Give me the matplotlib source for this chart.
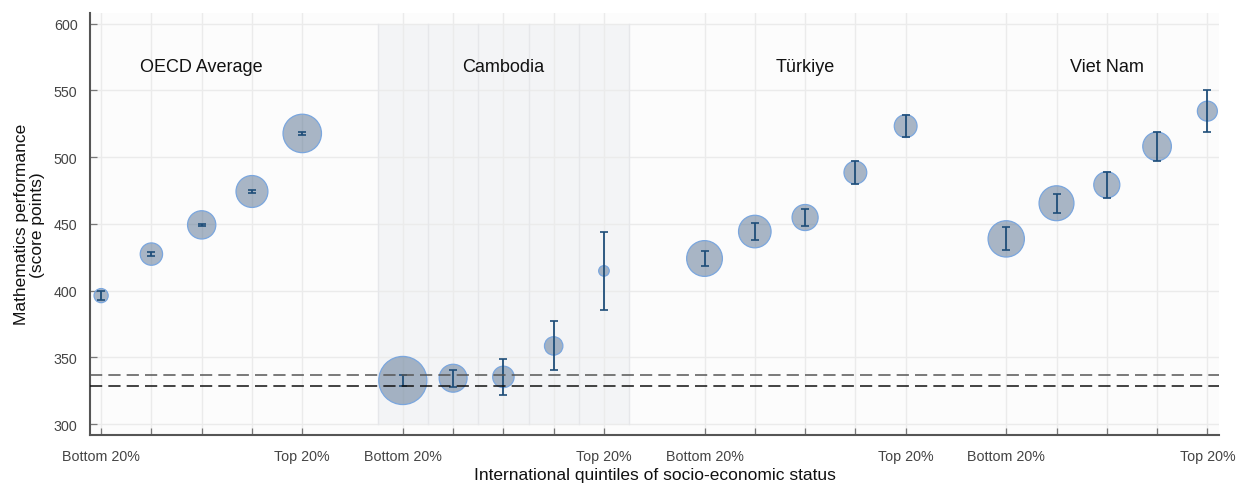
# Maths performance by international socio-economic quintile (PISA-style bubble chart)
import numpy as np
import matplotlib.pyplot as plt
from matplotlib.patches import Rectangle

plt.rcParams["font.family"] = ["Liberation Sans", "DejaVu Sans"]

groups = ["OECD Average", "Cambodia", "Türkiye", "Viet Nam"]

# mean score, half-width of 95% CI, share of students (%) per quintile
oecd_mean = [396.2, 427.3, 449.2, 474.2, 517.7]
oecd_ci = [3.4, 1.2, 0.9, 0.9, 0.9]
oecd_share = [5, 12.5, 20, 25.5, 37]

khm_mean = [332.6, 334.3, 335.3, 358.5, 414.7]
khm_ci = [4.1, 6.4, 13.2, 18.3, 29.3]
khm_share = [58, 19.5, 11.5, 8.5, 2.8]

tur_mean = [424.0, 444.2, 454.7, 488.4, 523.2]
tur_ci = [5.3, 6.1, 6.6, 8.4, 8.5]
tur_share = [32, 26.5, 17, 13, 13]

vnm_mean = [438.7, 465.4, 479.2, 508.0, 534.4]
vnm_ci = [8.7, 7.1, 9.7, 10.6, 15.8]
vnm_share = [33, 30.5, 17, 20.5, 10]

means = [oecd_mean, khm_mean, tur_mean, vnm_mean]
cis = [oecd_ci, khm_ci, tur_ci, vnm_ci]
shares = [oecd_share, khm_share, tur_share, vnm_share]

tick_text = ["Bottom 20%", "", "", "", "Top 20%"]
highlight = "Cambodia"

fig = plt.figure(figsize=(12.37, 4.85), dpi=100)
ax = fig.add_axes([0.0728, 0.101, 0.913, 0.871])
ax.set_facecolor("#fcfcfc")

xticks, xlabels = [], []
for g, (name, m, c, s) in enumerate(zip(groups, means, cis, shares)):
    x = np.arange(5) + 6 * g
    xticks += list(x)
    xlabels += tick_text
    if name == highlight:
        ax.add_patch(Rectangle((x[0] - 0.5, 300), 5, 300, facecolor="#f3f4f6",
                               edgecolor="none", zorder=0.5))
        for xb in np.arange(x[0] - 0.5, x[-1] + 1, 1.0):
            ax.plot([xb, xb], [300, 600], color="#e6e7ea", lw=1, zorder=0.6)
    ax.scatter(x, m, s=np.array(s) * 20.7, color="#55708f", alpha=0.5,
               edgecolors="none", zorder=3)
    ax.scatter(x, m, s=np.array(s) * 20.7, facecolors="none", edgecolors="#7aa6de",
               linewidths=0.9, zorder=3.1)
    ax.errorbar(x, m, yerr=c, fmt="none", ecolor="#1f4e79", elinewidth=1.3,
                capsize=3, capthick=1.2, zorder=4)
    ax.text(x[2], 568, name, ha="center", va="center", fontsize=13, color="#111111")

# Cambodia bottom quintile confidence band
k0 = khm_mean[0]
for yv, col in [(k0 + khm_ci[0], "#555555"), (k0 - khm_ci[0], "#111111")]:
    ax.axhline(yv, color=col, lw=1.1, ls=(0, (8, 4)), zorder=5)

ax.set_xticks(xticks)
ax.set_xticklabels(xlabels, fontsize=10.3, color="#444444")
ax.set_yticks(np.arange(300, 601, 50))
ax.tick_params(axis="y", labelsize=10.3, labelcolor="#444444", pad=9)
ax.tick_params(direction="in", length=5, color="#777777", width=0.9)
ax.tick_params(axis="x", pad=10)
ax.grid(True, color="#ebebeb", lw=1)
ax.set_axisbelow(True)

ax.set_xlim(-0.22, 22.24)
ax.set_ylim(291.75, 608.25)
for sp in ["top", "right"]:
    ax.spines[sp].set_visible(False)
for sp in ["left", "bottom"]:
    ax.spines[sp].set_color("#555555")
    ax.spines[sp].set_linewidth(1.5)

ax.set_ylabel("Mathematics performance\n(score points)", fontsize=12.5, color="#111111",
              labelpad=6, linespacing=1.1)
ax.set_xlabel("International quintiles of socio-economic status", fontsize=12.5,
              color="#111111", labelpad=3)

fig.savefig("out.png", dpi=100)
